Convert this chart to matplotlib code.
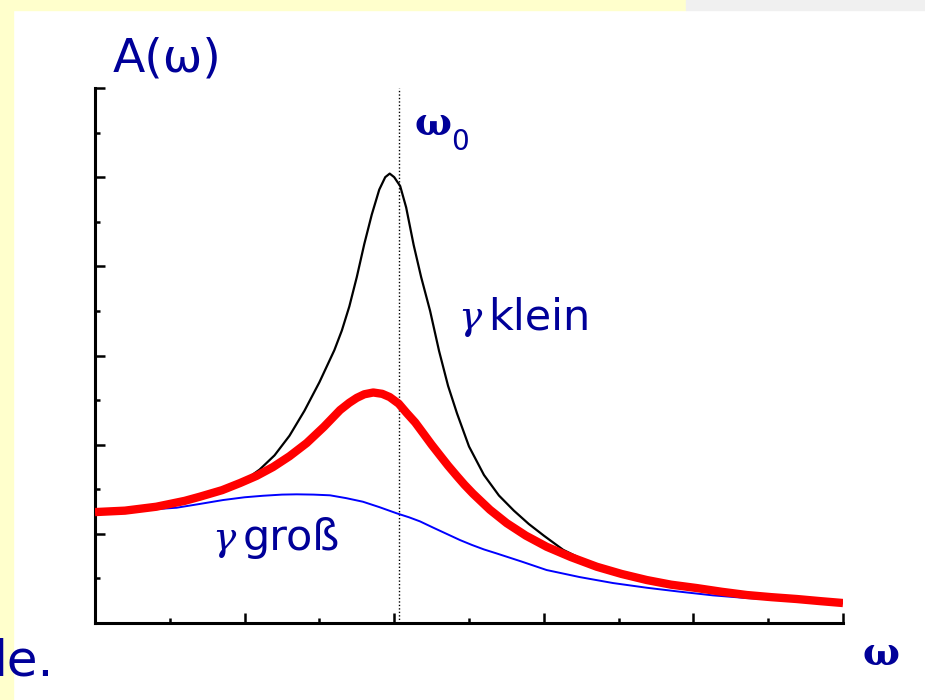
import matplotlib.pyplot as plt
from matplotlib.patches import Rectangle

# resonance curves (omega in units of the tick spacing)
w_klein = [0, 0.2, 0.4, 0.6, 0.8, 1.0, 1.1, 1.2, 1.3, 1.4, 1.5, 1.6, 1.65, 1.7, 1.75,
           1.8, 1.85, 1.9, 1.94, 1.97, 2.0, 2.04, 2.08, 2.13, 2.18, 2.24, 2.3, 2.36,
           2.42, 2.5, 2.6, 2.7, 2.8, 2.9, 3.0, 3.13, 3.3, 3.46, 3.65, 3.8, 4.0, 4.13,
           4.4, 4.7, 5.0]
a_klein = [1.244, 1.26, 1.29, 1.35, 1.45, 1.60, 1.72, 1.88, 2.10, 2.38, 2.70, 3.06, 3.28,
           3.55, 3.88, 4.25, 4.58, 4.86, 5.00, 5.04, 5.00, 4.90, 4.66, 4.24, 3.88, 3.50,
           3.05, 2.66, 2.35, 1.98, 1.66, 1.43, 1.26, 1.11, 0.98, 0.82, 0.68, 0.594,
           0.50, 0.448, 0.39, 0.348, 0.30, 0.255, 0.224]

w_mittel = [0, 0.2, 0.41, 0.6, 0.7, 0.85, 0.97, 1.08, 1.19, 1.3, 1.415, 1.53, 1.638,
            1.70, 1.75, 1.80, 1.86, 1.92, 1.97, 2.03, 2.084, 2.14, 2.193, 2.25, 2.306,
            2.36, 2.418, 2.47, 2.527, 2.64, 2.752, 2.88, 3.019, 3.18, 3.354, 3.52, 3.688,
            3.85, 4.022, 4.19, 4.356, 4.52, 4.691, 4.85, 5.0]
a_mittel = [1.244, 1.26, 1.304, 1.37, 1.416, 1.49, 1.57, 1.65, 1.749, 1.87, 2.018, 2.20,
            2.388, 2.47, 2.525, 2.565, 2.585, 2.57, 2.534, 2.46, 2.354, 2.25, 2.130,
            2.00, 1.88, 1.765, 1.65, 1.55, 1.45, 1.27, 1.12, 0.98, 0.855, 0.74,
            0.631, 0.55, 0.482, 0.43, 0.392, 0.35, 0.314, 0.29, 0.269, 0.245, 0.224]

w_gross = [0, 0.3, 0.546, 0.7, 0.856, 1.0, 1.123, 1.25, 1.348, 1.46, 1.571, 1.68, 1.791,
           1.9, 2.017, 2.1, 2.172, 2.26, 2.35, 2.44, 2.52, 2.6, 2.685, 2.85, 3.019, 3.24,
           3.463, 3.69, 3.910, 4.13, 4.356, 4.68, 5.0]
a_gross = [1.244, 1.265, 1.293, 1.335, 1.379, 1.41, 1.427, 1.44, 1.443, 1.44, 1.432, 1.40,
           1.360, 1.30, 1.230, 1.185, 1.14, 1.07, 1.0, 0.93, 0.875, 0.825, 0.78, 0.69,
           0.594, 0.515, 0.448, 0.395, 0.351, 0.31, 0.280, 0.25, 0.224]

w0 = 2.03

W, H = 925, 700
fig = plt.figure(figsize=(W / 100, H / 100), dpi=100)
fig.patch.set_facecolor('white')

def px(x, y):
    return x / W, 1 - y / H

# slide background strips
fig.patches.append(Rectangle((0, 1 - 10 / H), 686 / W, 10 / H, transform=fig.transFigure,
                             color='#ffffcc', zorder=0))
fig.patches.append(Rectangle((686 / W, 1 - 10 / H), 1, 10 / H, transform=fig.transFigure,
                             color='#f0f0f0', zorder=0))
fig.patches.append(Rectangle((0, 0), 13 / W, 1, transform=fig.transFigure,
                             color='#ffffcc', zorder=0))

ax = fig.add_axes([95 / W, 77 / H, 748 / W, 535 / H])
ax.set_facecolor('none')

ax.plot(w_klein, a_klein, color='black', lw=1.6, zorder=3, solid_joinstyle='round')
ax.plot(w_gross, a_gross, color='#0000ff', lw=1.4, zorder=3, solid_joinstyle='round')
ax.plot(w_mittel, a_mittel, color='#ff0000', lw=6, solid_capstyle='butt',
        solid_joinstyle='round', zorder=4)
ax.axvline(w0, color='black', lw=1, ls=(0, (1, 1.5)), zorder=2)

ax.set_xlim(0, 5)
ax.set_ylim(0, 6)
ax.set_xticks(range(6))
ax.set_xticks([i + 0.5 for i in range(5)], minor=True)
ax.set_yticks(range(7))
ax.set_yticks([i + 0.5 for i in range(6)], minor=True)
ax.set_xticklabels([])
ax.set_yticklabels([])
ax.tick_params(which='both', direction='in', width=1.8, color='black')
ax.tick_params(which='major', length=7)
ax.tick_params(which='minor', length=3.5)
for s in ['top', 'right']:
    ax.spines[s].set_visible(False)
for s in ['left', 'bottom']:
    ax.spines[s].set_linewidth(2.2)

navy = '#000099'
fig.text(*px(113, 72), 'A(ω)', fontsize=34, color=navy, va='baseline',
         family=['Liberation Sans Narrow', 'DejaVu Sans'])
fig.text(*px(414, 135), 'ω', fontsize=28, color=navy, va='baseline', family='DejaVu Serif',
         weight='bold')
fig.text(*px(451, 150), '0', fontsize=20, color=navy, va='baseline', family='DejaVu Sans')
fig.text(*px(458, 329), 'γ', fontsize=28, color=navy, va='baseline',
         family='DejaVu Serif', style='italic')
fig.text(*px(488, 329), 'klein', fontsize=31, color=navy, va='baseline', family='DejaVu Sans')
fig.text(*px(212, 550), 'γ', fontsize=28, color=navy, va='baseline',
         family='DejaVu Serif', style='italic')
fig.text(*px(243, 550), 'groß', fontsize=31, color=navy, va='baseline', family='DejaVu Sans')
fig.text(*px(862, 665), 'ω', fontsize=28, color=navy, va='baseline', family='DejaVu Serif',
         weight='bold')
fig.text(*px(54, 675), 'de.', fontsize=36, color=navy, va='baseline', ha='right',
         family='DejaVu Sans')

fig.savefig('out.png', dpi=100, facecolor=fig.get_facecolor())
